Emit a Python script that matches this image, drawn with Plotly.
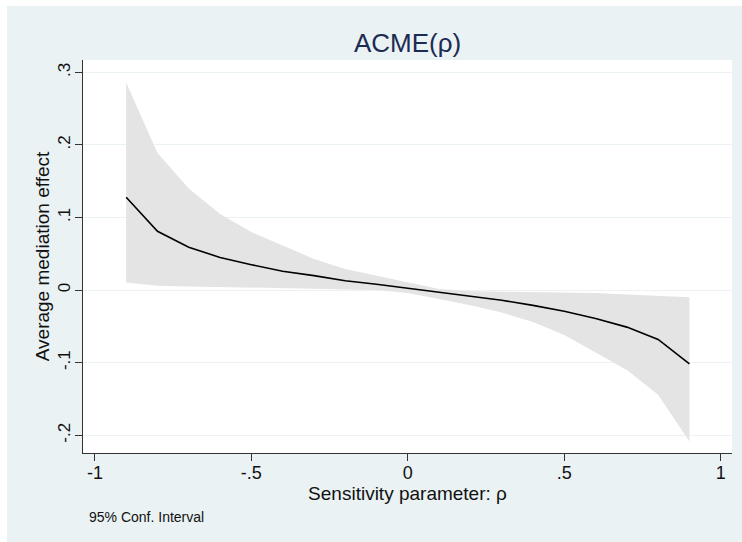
import plotly.graph_objects as go

# ---- data ----
rho = [-0.9, -0.8, -0.7, -0.6, -0.5, -0.4, -0.3, -0.2, -0.1, 0.0,
       0.1, 0.2, 0.3, 0.4, 0.5, 0.6, 0.7, 0.8, 0.9]
acme = [0.128, 0.081, 0.059, 0.045, 0.035, 0.026, 0.020, 0.013, 0.008, 0.0025,
        -0.004, -0.009, -0.014, -0.021, -0.029, -0.039, -0.051, -0.068, -0.1015]
ci_upper = [0.286, 0.189, 0.140, 0.105, 0.080, 0.061, 0.043, 0.029, 0.0195, 0.011,
            0.0015, -0.0015, -0.002, -0.0025, -0.003, -0.004, -0.006, -0.008, -0.0097]
ci_lower = [0.0105, 0.006, 0.005, 0.004, 0.003, 0.003, 0.002, 0.001, 0.0, -0.004,
            -0.012, -0.021, -0.031, -0.044, -0.062, -0.086, -0.110, -0.144, -0.2085]

x_ticks = [-1, -0.5, 0, 0.5, 1]
x_ticklabels = ["-1", "-.5", "0", ".5", "1"]
y_ticks = [-0.2, -0.1, 0, 0.1, 0.2, 0.3]
y_ticklabels = ["-.2", "-.1", "0", ".1", ".2", ".3"]

FONT = "Liberation Sans, Arial, sans-serif"
BG = "#EAF2F3"
AXIS = "#333333"

fig = go.Figure()
fig.add_trace(go.Scatter(x=rho, y=ci_lower, mode="lines", line=dict(width=0),
                         showlegend=False, hoverinfo="skip"))
fig.add_trace(go.Scatter(x=rho, y=ci_upper, mode="lines", line=dict(width=0),
                         fill="tonexty", fillcolor="#E4E4E4",
                         name="95% Conf. Interval", showlegend=False))
fig.add_trace(go.Scatter(x=rho, y=acme, mode="lines",
                         line=dict(color="black", width=1.6),
                         name="ACME", showlegend=False))

fig.update_layout(
    width=742, height=542,
    paper_bgcolor=BG, plot_bgcolor="white",
    margin=dict(l=83, r=10, t=60, b=89, pad=0),
    font=dict(family=FONT, color="#111111"),
    title=dict(text="ACME(ρ)", x=0.5, xref="paper", xanchor="center",
               y=1 - 43 / 542, yref="container", yanchor="middle",
               font=dict(size=26, color="#1C2B54", family=FONT)),
    xaxis=dict(range=[-1.038, 1.036], tickvals=x_ticks, ticktext=x_ticklabels,
               ticks="outside", ticklen=7, tickcolor=AXIS, tickwidth=1,
               ticklabelstandoff=-4,
               showline=True, linecolor=AXIS, linewidth=1,
               showgrid=False, zeroline=False,
               tickfont=dict(size=18, color="#111111"),
               title=dict(text="Sensitivity parameter: ρ", standoff=0,
                          font=dict(size=19, color="#111111"))),
    yaxis=dict(range=[-0.2244, 0.317], tickvals=y_ticks, ticktext=y_ticklabels,
               tickangle=-90,
               ticks="outside", ticklen=7, tickcolor=AXIS, tickwidth=1,
               ticklabelstandoff=-2,
               showline=True, linecolor=AXIS, linewidth=1,
               showgrid=True, gridcolor=BG, gridwidth=1, zeroline=False,
               tickfont=dict(size=17, color="#111111"),
               title=dict(text="Average mediation effect", standoff=0,
                          font=dict(size=19, color="#111111"))),
    shapes=[
        dict(type="rect", xref="paper", yref="paper", x0=-0.2, x1=1.2,
             y0=(453 - 6) / 393, y1=1.25, fillcolor="white", line=dict(width=0)),
        dict(type="rect", xref="paper", yref="paper", x0=-0.2, x1=(7 - 83) / 649,
             y0=-0.3, y1=1.25, fillcolor="white", line=dict(width=0)),
    ],
    annotations=[
        dict(text="95% Conf. Interval", xref="paper", yref="paper",
             x=(87 - 83) / 649, y=(453 - 517) / 393, xanchor="left", yanchor="middle",
             showarrow=False, font=dict(size=14, color="#111111", family=FONT)),
    ],
)

fig.write_html("out.html")
